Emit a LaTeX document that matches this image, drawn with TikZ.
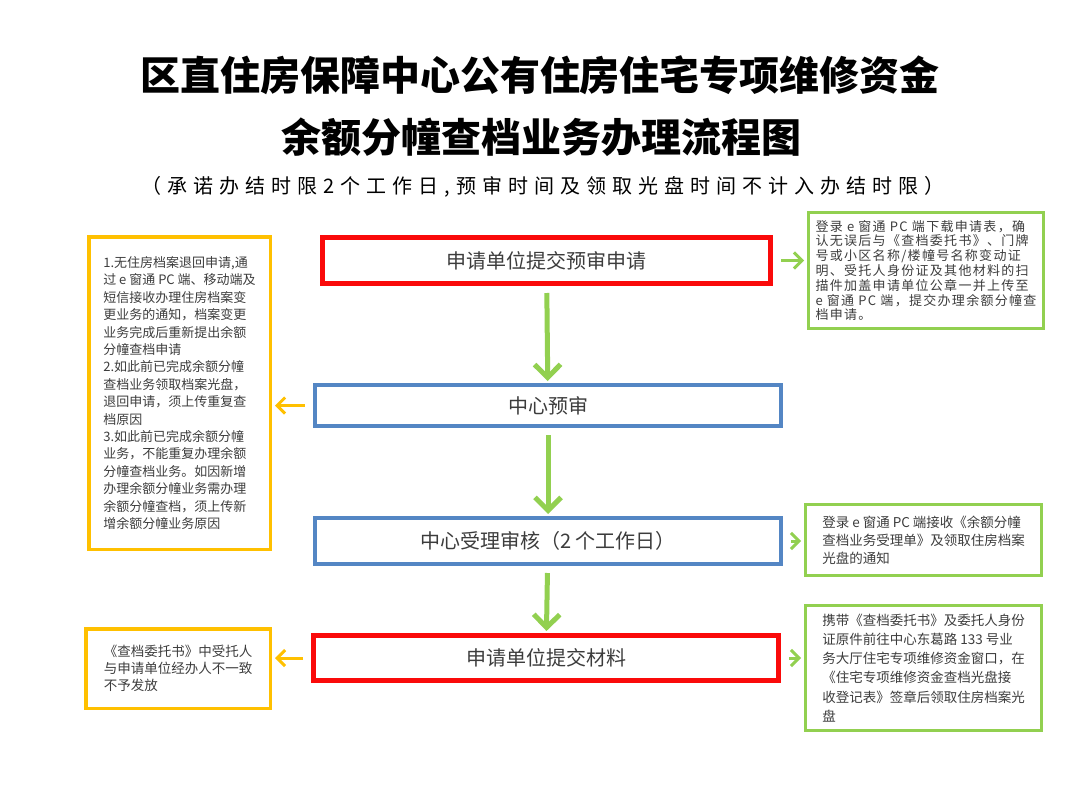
\documentclass[tikz,border=0pt]{standalone}
\usepackage{fontspec}
\setmainfont{Noto Sans CJK SC}
\newfontfamily\subfont[LetterSpace=30]{Noto Sans CJK SC}
\newfontfamily\widefont[LetterSpace=10]{Noto Sans CJK SC}
\usetikzlibrary{arrows.meta,chains,positioning,scopes}
\definecolor{stepred}{RGB}{250,10,10}
\definecolor{stepblue}{RGB}{84,134,196}
\definecolor{notegreen}{RGB}{146,208,80}
\definecolor{noteyellow}{RGB}{255,192,0}
\definecolor{inkgray}{RGB}{60,60,60}
\tikzset{>={Straight Barb[length=13pt,width=26pt]},
	every join/.style={flowarrow}}
\tikzstyle{flowarrow}=[->, draw=notegreen, line width=5pt,
shorten <=7pt, shorten >=2pt]
\tikzstyle{sidearrow}=[-{Straight Barb[length=8pt,width=16pt]}, line width=3pt,
shorten <=8pt, shorten >=3pt]
\tikzstyle{stepbox}=[draw, rectangle, inner sep=0pt, text=inkgray,
font=\fontsize{20}{24}\selectfont]
\tikzstyle{notebox}=[draw, rectangle, inner sep=0pt, align=left, text=inkgray]
\newcommand{\notefont}[2]{\fontsize{#1}{#2}\selectfont}

\begin{document}
\begin{tikzpicture}[x=1pt,y=-1pt]
	\useasboundingbox (0,0) rectangle (1080,787);
	% title
	\node (title1) at (540,75) {\fontsize{40}{44}\selectfont\bfseries 区直住房保障中心公有住房住宅专项维修资金};
	\node (title2) at (541,137) {\fontsize{40}{44}\selectfont\bfseries 余额分幢查档业务办理流程图};
	\node (subtitle) at (543,187) {\subfont\fontsize{20}{24}\selectfont （承诺办结时限2个工作日,预审时间及领取光盘时间不计入办结时限）};
	% main steps
	\node[stepbox, draw=stepred, line width=5pt, minimum width=448pt, minimum height=46pt]
	(apply) at (546.5,260.5) {申请单位提交预审申请};
	\node[stepbox, draw=stepblue, line width=4pt, minimum width=466pt, minimum height=41pt]
	(precheck) at (548,405.5) {中心预审};
	\node[stepbox, draw=stepblue, line width=4pt, minimum width=466pt, minimum height=46pt]
	(accept) at (548,541) {中心受理审核（2 个工作日）};
	\node[stepbox, draw=stepred, line width=5pt, minimum width=465pt, minimum height=45pt]
	(submit) at (546,658) {申请单位提交材料};
	% notes
	\node[notebox, draw=noteyellow, line width=3.5pt, minimum width=181.5pt, minimum height=312.5pt,
	font=\notefont{13}{17.4}] (returnnote) at (179.5,393)
	{1.无住房档案退回申请,通\\过 e 窗通 PC 端、移动端及\\短信接收办理住房档案变\\更业务的通知，档案变更\\业务完成后重新提出余额\\分幢查档申请\\
		2.如此前已完成余额分幢\\查档业务领取档案光盘，\\退回申请，须上传重复查\\档原因\\
		3.如此前已完成余额分幢\\业务，不能重复办理余额\\分幢查档业务。如因新增\\办理余额分幢业务需办理\\余额分幢查档，须上传新\\增余额分幢业务原因};
	\node[notebox, draw=noteyellow, line width=3.5pt, minimum width=184.5pt, minimum height=79.5pt,
	font=\notefont{13.5}{17}] (refusenote) at (178,668.5)
	{《查档委托书》中受托人\\与申请单位经办人不一致\\不予发放};
	\node[notebox, draw=notegreen, line width=3pt, minimum width=235pt, minimum height=116pt,
	font=\widefont\notefont{13}{14.8}] (uploadnote) at (926,270.5)
	{登录 e 窗通 PC 端下载申请表，确\\认无误后与《查档委托书》、门牌\\号或小区名称/楼幢号名称变动证\\明、受托人身份证及其他材料的扫\\描件加盖申请单位公章一并上传至\\e 窗通 PC 端，提交办理余额分幢查\\档申请。};
	\node[notebox, draw=notegreen, line width=3pt, minimum width=236pt, minimum height=71pt,
	font=\notefont{13.5}{18}] (receiptnote) at (923.5,540)
	{登录 e 窗通 PC 端接收《余额分幢\\查档业务受理单》及领取住房档案\\光盘的通知};
	\node[notebox, draw=notegreen, line width=3pt, minimum width=236pt, minimum height=125pt,
	font=\notefont{13.5}{19.2}] (collectnote) at (923.5,668)
	{携带《查档委托书》及委托人身份\\证原件前往中心东葛路 133 号业\\务大厅住宅专项维修资金窗口，在\\《住宅专项维修资金查档光盘接\\收登记表》签章后领取住房档案光\\盘};
	% flow
	{ [start chain]
		\chainin (apply);
		\chainin (precheck) [join];
		\chainin (accept) [join];
		\chainin (submit) [join];
	}
	% side arrows
	\draw[sidearrow, notegreen] (apply.east) -- (apply.east -| uploadnote.west);
	\draw[sidearrow, noteyellow] (precheck.west) -- (precheck.west -| returnnote.east);
	\draw[sidearrow, notegreen] (accept.east) -- (accept.east -| receiptnote.west);
	\draw[sidearrow, noteyellow] (submit.west) -- (submit.west -| refusenote.east);
	\draw[sidearrow, notegreen] (submit.east) -- (submit.east -| collectnote.west);
\end{tikzpicture}
\end{document}
